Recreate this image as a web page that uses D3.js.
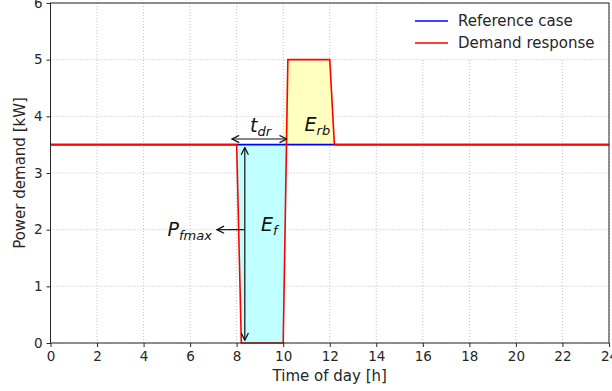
<!DOCTYPE html>
<html>
<head>
<meta charset="utf-8">
<script src="https://cdn.jsdelivr.net/npm/d3@7"></script>
<style>
  html, body { margin: 0; padding: 0; background: #fff; }
  svg { display: block; font-family: "DejaVu Sans", sans-serif; }
</style>
</head>
<body>
<svg id="chart" width="612" height="391"></svg>
<script>
// Hourly time axis and power levels (kW)
const xTicks = [0, 2, 4, 6, 8, 10, 12, 14, 16, 18, 20, 22, 24];
const yTicks = [0, 1, 2, 3, 4, 5, 6];

// Reference case: flat baseline demand
const refTime  = [0, 24];
const refPower = [3.5, 3.5];

// Demand response: curtailment then rebound
const drTime  = [0, 8, 8.2, 10, 10.2, 12, 12.2, 24];
const drPower = [3.5, 3.5, 0, 0, 5, 5, 3.5, 3.5];

const seriesNames = ["Reference case", "Demand response"];
const seriesColors = ["#0000ff", "#ff0000"];

const svg = d3.select("#chart");
const margin = { left: 50.5, right: 3, top: 3, bottom: 48 };
const W = 612, H = 391;

const x = d3.scaleLinear().domain([0, 24]).range([margin.left, W - margin.right]);
const y = d3.scaleLinear().domain([0, 6]).range([H - margin.bottom, margin.top]);

// Grid
const grid = svg.append("g");
grid.selectAll("line.gx").data(xTicks).join("line")
  .attr("x1", d => x(d)).attr("x2", d => x(d))
  .attr("y1", y(0)).attr("y2", y(6))
  .attr("stroke", "#b0b0b0").attr("stroke-width", 0.8).attr("stroke-dasharray", "1,2");
grid.selectAll("line.gy").data(yTicks).join("line")
  .attr("y1", d => y(d)).attr("y2", d => y(d))
  .attr("x1", x(0)).attr("x2", x(24))
  .attr("stroke", "#b0b0b0").attr("stroke-width", 0.8).attr("stroke-dasharray", "1,2");

// Fills between demand response and reference
const pts = drTime.map((t, i) => ({ t, p: drPower[i] }));
const base = 3.5;
const below = d3.area().x(d => x(d.t)).y0(y(base)).y1(d => y(Math.min(d.p, base)));
const above = d3.area().x(d => x(d.t)).y0(y(base)).y1(d => y(Math.max(d.p, base)));
svg.append("path").datum(pts).attr("d", below).attr("fill", "#bfffff");
svg.append("path").datum(pts).attr("d", above).attr("fill", "#ffffc0");

// Lines
const line = d3.line().x(d => x(d.t)).y(d => y(d.p));
svg.append("path").datum(refTime.map((t, i) => ({ t, p: refPower[i] })))
  .attr("d", line).attr("fill", "none").attr("stroke", seriesColors[0]).attr("stroke-width", 1.6);
svg.append("path").datum(pts)
  .attr("d", line).attr("fill", "none").attr("stroke", seriesColors[1]).attr("stroke-width", 1.6);

// Axes
const xAxis = d3.axisBottom(x).tickValues(xTicks).tickFormat(d3.format("d")).tickSize(4).tickPadding(4);
const yAxis = d3.axisLeft(y).tickValues(yTicks).tickFormat(d3.format("d")).tickSize(4).tickPadding(4);
const gx = svg.append("g").attr("transform", `translate(0,${y(0)})`).call(xAxis);
const gy = svg.append("g").attr("transform", `translate(${x(0)},0)`).call(yAxis);
[gx, gy].forEach(g => {
  g.select(".domain").remove();
  g.selectAll("text").attr("font-size", 13.5).attr("fill", "#262626").attr("font-family", "DejaVu Sans");
  g.selectAll("line").attr("stroke", "#262626");
});

// Frame
svg.append("rect")
  .attr("x", x(0)).attr("y", y(6))
  .attr("width", x(24) - x(0)).attr("height", y(0) - y(6))
  .attr("fill", "none").attr("stroke", "#262626").attr("stroke-width", 1);

// Axis labels
svg.append("text").attr("x", (x(0) + x(24)) / 2).attr("y", 381)
  .attr("text-anchor", "middle").attr("font-size", 15).attr("fill", "#262626")
  .text("Time of day [h]");
svg.append("text")
  .attr("transform", `translate(25,${(y(0) + y(6)) / 2}) rotate(-90)`)
  .attr("text-anchor", "middle").attr("font-size", 15).attr("fill", "#262626")
  .text("Power demand [kW]");

// Arrow markers
const defs = svg.append("defs");
defs.append("marker").attr("id", "head").attr("viewBox", "0 0 10 10")
  .attr("refX", 9).attr("refY", 5).attr("markerWidth", 9).attr("markerHeight", 9)
  .attr("markerUnits", "userSpaceOnUse").attr("orient", "auto-start-reverse")
  .append("path").attr("d", "M1,1 L9,5 L1,9").attr("fill", "none")
  .attr("stroke", "#111").attr("stroke-width", 1.4);

function arrow(x1, y1, x2, y2, both) {
  const a = svg.append("line")
    .attr("x1", x(x1)).attr("y1", y(y1)).attr("x2", x(x2)).attr("y2", y(y2))
    .attr("stroke", "#111").attr("stroke-width", 1.2)
    .attr("marker-end", "url(#head)");
  if (both) a.attr("marker-start", "url(#head)");
}
// Duration of the event
arrow(7.8, 3.6, 10.15, 3.6, true);
// Maximum flexible power
arrow(8.35, 3.45, 8.35, 0.05, true);
arrow(8.35, 2.0, 7.15, 2.0, false);

// Math-style labels
function mathLabel(cx, cy, main, sub, anchor) {
  const t = svg.append("text").attr("x", x(cx)).attr("y", y(cy))
    .attr("text-anchor", anchor || "middle")
    .attr("font-family", "DejaVu Sans").attr("font-style", "italic")
    .attr("fill", "#111");
  t.append("tspan").attr("font-size", 19).text(main);
  t.append("tspan").attr("font-size", 13).attr("dy", 4).text(sub);
}
mathLabel(9.03, 3.73, "t", "dr");
mathLabel(11.47, 3.75, "E", "rb");
mathLabel(5.98, 1.88, "P", "fmax");
mathLabel(9.4, 1.97, "E", "f");

// Legend
const lg = svg.append("g");
lg.append("rect").attr("x", 404).attr("y", 6).attr("width", 202).attr("height", 52)
  .attr("fill", "#fff").attr("stroke", "none");
seriesNames.forEach((name, i) => {
  const yy = 21 + i * 22;
  lg.append("line").attr("x1", 415).attr("x2", 448).attr("y1", yy).attr("y2", yy)
    .attr("stroke", seriesColors[i]).attr("stroke-width", 1.6);
  lg.append("text").attr("x", 458).attr("y", yy + 5).attr("font-size", 15)
    .attr("fill", "#262626").text(name);
});
</script>
</body>
</html>
